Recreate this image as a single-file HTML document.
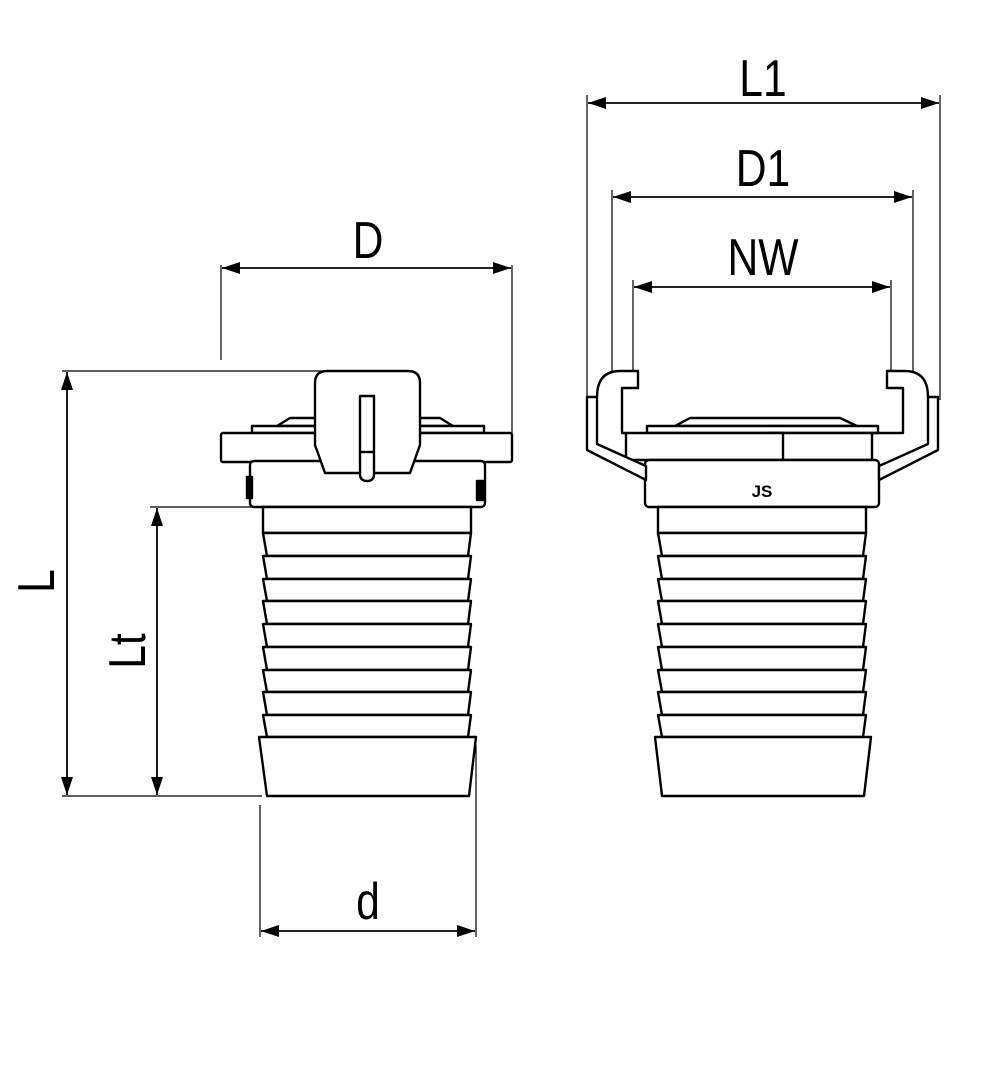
<!DOCTYPE html>
<html><head><meta charset="utf-8"><style>
html,body{margin:0;padding:0;background:#fff;}
svg{display:block;}
text{font-family:"Liberation Sans",sans-serif;fill:#000;}
</style></head><body>
<svg width="1008" height="1080" viewBox="0 0 1008 1080" xmlns="http://www.w3.org/2000/svg">
<defs>
<marker id="a" markerWidth="18" markerHeight="12" refX="18" refY="6" orient="auto-start-reverse" markerUnits="userSpaceOnUse">
<path d="M0,0 L18,6 L0,12 Z" fill="#000"/></marker>
</defs>
<g stroke="#000" stroke-width="1.2" fill="none">
<line x1="221" y1="265" x2="221" y2="360"/>
<line x1="512" y1="265" x2="512" y2="433"/>
<line x1="222" y1="268" x2="511" y2="268" stroke-width="1.8" marker-start="url(#a)" marker-end="url(#a)"/>
<line x1="62" y1="371" x2="330" y2="371"/>
<line x1="67" y1="372" x2="67" y2="795" stroke-width="1.8" marker-start="url(#a)" marker-end="url(#a)"/>
<line x1="62" y1="796" x2="262" y2="796"/>
<line x1="150" y1="507" x2="255" y2="507"/>
<line x1="157" y1="508" x2="157" y2="795" stroke-width="1.8" marker-start="url(#a)" marker-end="url(#a)"/>
<line x1="260" y1="805" x2="260" y2="937"/>
<line x1="476" y1="745" x2="476" y2="937"/>
<line x1="261" y1="931" x2="475" y2="931" stroke-width="1.8" marker-start="url(#a)" marker-end="url(#a)"/>
<line x1="587" y1="95" x2="587" y2="400"/>
<line x1="940" y1="95" x2="940" y2="400"/>
<line x1="588" y1="103" x2="939" y2="103" stroke-width="1.8" marker-start="url(#a)" marker-end="url(#a)"/>
<line x1="612" y1="190" x2="612" y2="372"/>
<line x1="913" y1="190" x2="913" y2="372"/>
<line x1="613" y1="197" x2="912" y2="197" stroke-width="1.8" marker-start="url(#a)" marker-end="url(#a)"/>
<line x1="633" y1="280" x2="633" y2="372"/>
<line x1="891" y1="280" x2="891" y2="372"/>
<line x1="634" y1="287" x2="890" y2="287" stroke-width="1.8" marker-start="url(#a)" marker-end="url(#a)"/>
</g>
<g font-size="52">
<text x="368" y="258" text-anchor="middle" transform="translate(368 0) scale(0.82 1) translate(-368 0)">D</text>
<text x="763" y="96" text-anchor="middle" transform="translate(763 0) scale(0.82 1) translate(-763 0)">L1</text>
<text x="763" y="186" text-anchor="middle" transform="translate(763 0) scale(0.82 1) translate(-763 0)">D1</text>
<text x="763" y="275" text-anchor="middle" transform="translate(763 0) scale(0.82 1) translate(-763 0)">NW</text>
<text x="368" y="919" text-anchor="middle" transform="translate(368 0) scale(0.82 1) translate(-368 0)">d</text>
<text transform="translate(54 581) rotate(-90) scale(0.82 1)" text-anchor="middle">L</text>
<text transform="translate(145 651) rotate(-90) scale(0.82 1)" text-anchor="middle">Lt</text>
</g>
<g stroke="#000" stroke-width="2.4" fill="#fff" stroke-linejoin="round">
<path d="M277,426 L290,418 L440,418 L453,426 Z"/>
<rect x="252" y="426" width="232" height="7"/>
<rect x="221" y="433" width="291" height="29" rx="2"/>
<rect x="250" y="461" width="235" height="46" rx="4"/>
<rect x="247" y="477" width="5" height="21" fill="#000"/>
<rect x="477" y="481" width="6" height="19" fill="#000"/>
<path d="M327,371 L408,371 Q420,371 420,383 L420,445 L410,473 L325,473 L315,445 L315,383 Q315,371 327,371 Z"/>
<path d="M360,396 L374,396 L374,474 Q374,481 367,481 Q360,481 360,474 Z"/>
<line x1="360" y1="452" x2="374" y2="452"/>
<rect x="263" y="507" width="208" height="26"/>
<path d="M263,533 L471,533 L468,556 L267,556 Z"/>
<path d="M263,556 L471,556 L468,579 L267,579 Z"/>
<path d="M263,579 L471,579 L468,601 L267,601 Z"/>
<path d="M263,601 L471,601 L468,624 L267,624 Z"/>
<path d="M263,624 L471,624 L468,647 L267,647 Z"/>
<path d="M263,647 L471,647 L468,670 L267,670 Z"/>
<path d="M263,670 L471,670 L468,692 L267,692 Z"/>
<path d="M263,692 L471,692 L468,715 L267,715 Z"/>
<path d="M263,715 L471,715 L468,737 L267,737 Z"/>
<path d="M259,737 L476,737 L469,796 L267,796 Z"/>
<path d="M675,426 L690,418 L840,418 L857,426 Z"/>
<rect x="647" y="426" width="231" height="7"/>
<path d="M626,433 L872,433 L872,460 L626,460 Z"/>
<path d="M767,433 L783,433 L783,460"/>
<rect x="645" y="460" width="234" height="47" rx="4"/>
<path d="M587,397 L587,450 L646,480 L646,466 L597,444 L597,397 Z"/>
<path d="M597,397 Q597,371 620,371 L638,371 L638,388 L622,388 L622,433 L626,433" fill="none"/>
<path d="M938,397 L938,450 L879,480 L879,466 L928,444 L928,397 Z"/>
<path d="M928,397 Q928,371 905,371 L887,371 L887,388 L903,388 L903,433 L872,433" fill="none"/>
<rect x="658" y="507" width="208" height="26"/>
<path d="M658,533 L866,533 L863,556 L662,556 Z"/>
<path d="M658,556 L866,556 L863,579 L662,579 Z"/>
<path d="M658,579 L866,579 L863,601 L662,601 Z"/>
<path d="M658,601 L866,601 L863,624 L662,624 Z"/>
<path d="M658,624 L866,624 L863,647 L662,647 Z"/>
<path d="M658,647 L866,647 L863,670 L662,670 Z"/>
<path d="M658,670 L866,670 L863,692 L662,692 Z"/>
<path d="M658,692 L866,692 L863,715 L662,715 Z"/>
<path d="M658,715 L866,715 L863,737 L662,737 Z"/>
<path d="M655,737 L871,737 L864,796 L662,796 Z"/>
</g>
<text x="762" y="497" font-size="17" font-weight="bold" text-anchor="middle">JS</text>
</svg>
</body></html>
